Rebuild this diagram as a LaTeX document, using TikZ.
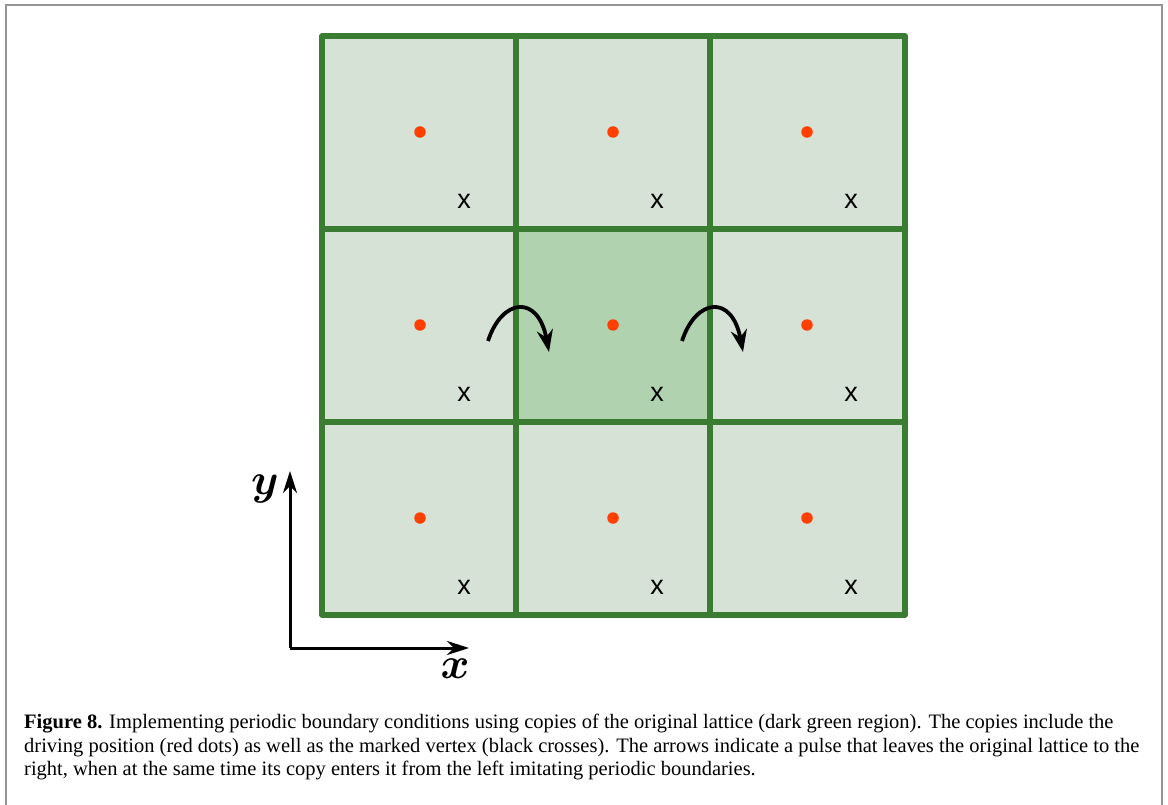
\RequirePackage{fix-cm}
\documentclass[tikz,border=0pt]{standalone}
\usepackage{fontspec}
\setmainfont{Liberation Serif}
\newfontfamily\crossfont{Liberation Sans}
\usetikzlibrary{arrows.meta}
\definecolor{cellfill}{HTML}{D6E2D6}
\definecolor{darkfill}{HTML}{B1D2AE}
\definecolor{gridline}{HTML}{3A7D32}
\definecolor{dotred}{HTML}{FF4000}
\definecolor{framegray}{HTML}{959595}
\tikzset{
  cell/.style={fill=cellfill},
  origcell/.style={fill=darkfill},
  gridstroke/.style={draw=gridline, line width=5.5pt, line join=round, line cap=round},
  drivedot/.style={circle, fill=dotred, inner sep=0pt, minimum size=11.5pt},
  cross/.style={inner sep=0pt, font=\crossfont\fontsize{27}{27}\selectfont},
  pulse/.style={line width=3.8pt, -{Stealth[length=22pt, width=16pt, inset=7pt]}},
  axis/.style={line width=3pt, -{Stealth[length=22pt, width=14pt, inset=7pt]}},
  axlabel/.style={inner sep=0pt, font=\fontsize{44}{44}\selectfont\boldmath},
  capline/.style={anchor=base west, inner sep=0pt, font=\fontsize{20.5}{24}\selectfont}
}
\begin{document}
\begin{tikzpicture}[x=1pt, y=-1pt]
\useasboundingbox (0,0) rectangle (1168,805);
\begin{scope}
\clip (0,0) rectangle (1168,805);
\draw[framegray, line width=2pt] (6,5) rectangle (1162,830);
\end{scope}
% cells
\fill[cellfill] (322,36) rectangle (905,615);
\fill[darkfill] (516,229) rectangle (710,422);
% grid
\draw[gridstroke] (322,36) rectangle (905,615);
\draw[gridstroke] (516,36) -- (516,615) (710,36) -- (710,615)
  (322,229) -- (905,229) (322,422) -- (905,422);
% dots and crosses
\foreach \i/\cx in {0/420,1/613,2/807}{
  \foreach \j/\cy in {0/132,1/325,2/518}{
    \node[drivedot] (d\i\j) at (\cx,\cy) {};
    \node[cross] (c\i\j) at (\cx+44,\cy+69) {x};
  }
}
% pulse arrows
\coordinate (la) at (488,341);
\coordinate (lb) at (549,352);
\coordinate (ra) at (682,341);
\coordinate (rb) at (743,352);
\draw[pulse] (la) .. controls (502,298) and (538,294) .. (lb);
\draw[pulse] (ra) .. controls (696,298) and (732,294) .. (rb);
% axes
\coordinate (o) at (290,648);
\coordinate (xe) at (469,648);
\coordinate (ye) at (290,471);
\draw[axis] (o) -- (xe);
\draw[axis] (o) -- (ye);
\node[axlabel] (xl) at (455,669) {$x$};
\node[axlabel] (yl) at (265,489) {$y$};
% caption
\node[capline] (cap1) at (24,728) {\textbf{Figure 8.} Implementing periodic boundary conditions using copies of the original lattice (dark green region). The copies include the};
\node[capline] (cap2) at (24,752) {driving position (red dots) as well as the marked vertex (black crosses). The arrows indicate a pulse that leaves the original lattice to the};
\node[capline] (cap3) at (24,775) {right, when at the same time its copy enters it from the left imitating periodic boundaries.};
\end{tikzpicture}
\end{document}
